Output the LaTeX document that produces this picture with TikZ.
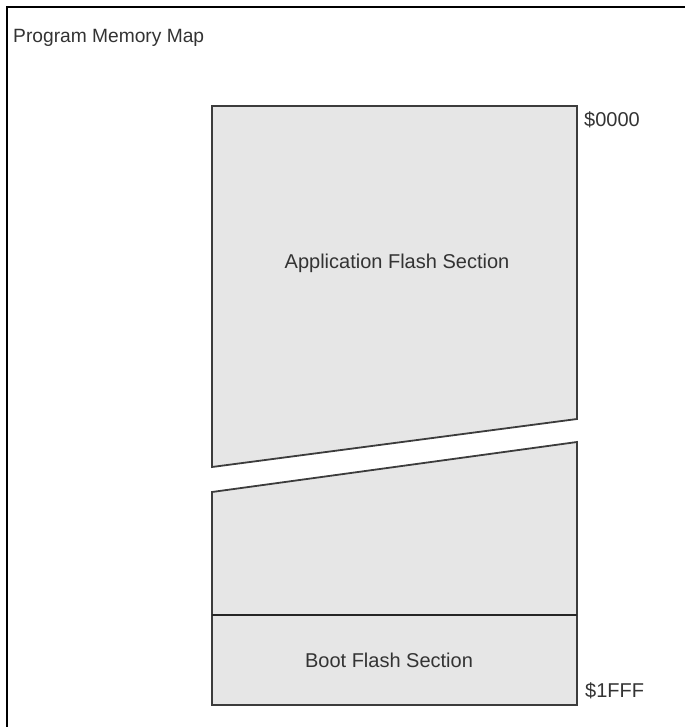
\documentclass[tikz,border=0pt]{standalone}
\usepackage{fontspec}
\setmainfont{Liberation Sans}
\definecolor{secfill}{HTML}{E6E6E6}
\definecolor{secline}{HTML}{3C3C3C}
\definecolor{txtgray}{HTML}{333333}

\begin{document}
\begin{tikzpicture}[x=1pt,y=-1pt]
   \tikzset{sec/.style={fill=secfill,draw=secline,line width=1.8pt,line join=miter},
            lbl/.style={text=txtgray,inner sep=0pt,font=\fontsize{20}{24}\selectfont}}
   \useasboundingbox (0,0) rectangle (685,727);
   % frame (cut at right and bottom)
   \draw[line width=2.4pt] (7,727) -- (7,7) -- (685,7);
   % memory blocks
   \draw[sec] (212,106) -- (577,106) -- (577,419) -- (212,467) -- cycle;
   \draw[sec] (212,492) -- (577,442) -- (577,705) -- (212,705) -- cycle;
   \draw[line width=2.4pt,draw=black!85] (212,615) -- (577,615);
   % labels
   \node[lbl,anchor=base west] (title) at (13,43) {\fontsize{19.2}{23}\selectfont Program Memory Map};
   \node[lbl,anchor=base] (app) at (397,268) {Application Flash Section};
   \node[lbl,anchor=base] (boot) at (389,667) {Boot Flash Section};
   \node[lbl,anchor=base west] (addrtop) at (584,127) {\$0000};
   \node[lbl,anchor=base west] (addrbot) at (585,697) {\$1FFF};
\end{tikzpicture}
\end{document}
